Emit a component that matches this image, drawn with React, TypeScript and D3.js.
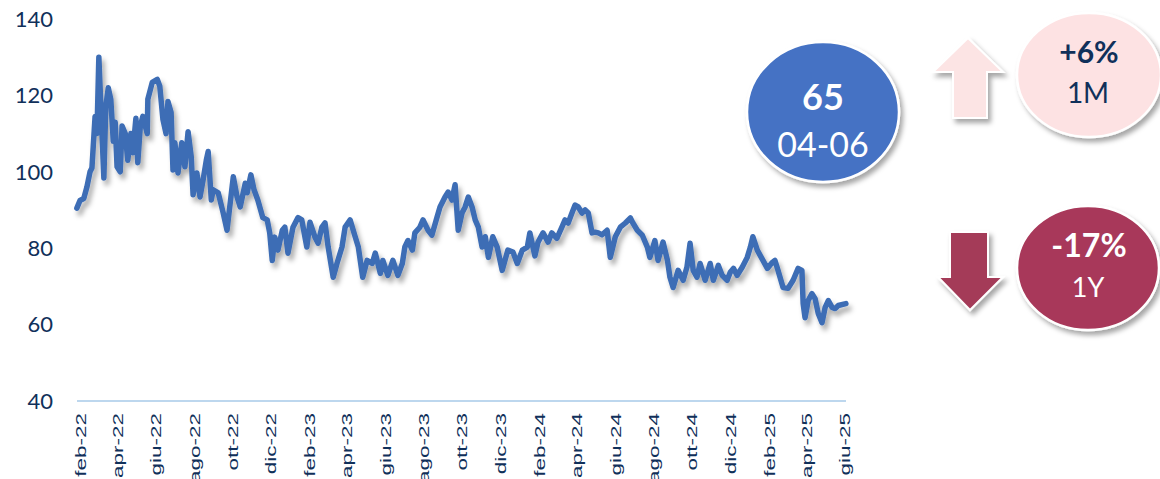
import React from "react";
import * as d3 from "d3";

// weekly-ish readings
const priceSeries: [string, number][] = [
  ["2022-01-27", 90.5], ["2022-02-01", 92.5], ["2022-02-07", 93], ["2022-02-12", 96], ["2022-02-17", 100],
  ["2022-02-20", 101], ["2022-02-25", 114.5], ["2022-02-28", 110], ["2022-03-03", 130], ["2022-03-08", 110],
  ["2022-03-11", 98.4], ["2022-03-14", 117], ["2022-03-18", 122], ["2022-03-22", 119], ["2022-03-26", 108],
  ["2022-03-29", 113], ["2022-04-01", 101.3], ["2022-04-06", 100], ["2022-04-09", 112], ["2022-04-14", 110],
  ["2022-04-18", 103], ["2022-04-23", 110], ["2022-04-26", 105], ["2022-05-01", 114], ["2022-05-04", 102.4],
  ["2022-05-08", 112], ["2022-05-12", 114.5], ["2022-05-19", 110], ["2022-05-20", 119], ["2022-05-27", 123.4],
  ["2022-06-04", 124.2], ["2022-06-08", 122.4], ["2022-06-13", 113.7], ["2022-06-18", 110], ["2022-06-21", 118.4],
  ["2022-06-26", 115.5], ["2022-06-29", 100.5], ["2022-07-02", 107.6], ["2022-07-07", 99.7], ["2022-07-13", 107.6],
  ["2022-07-18", 101.3], ["2022-07-23", 110.5], ["2022-07-28", 104], ["2022-07-31", 94], ["2022-08-06", 99.7],
  ["2022-08-11", 93.4], ["2022-08-16", 97.9], ["2022-08-21", 103], ["2022-08-24", 105.3], ["2022-08-29", 92.6],
  ["2022-09-01", 95.3], ["2022-09-09", 94.5], ["2022-09-17", 89.2], ["2022-09-23", 84.7], ["2022-10-03", 98.7],
  ["2022-10-09", 93.4], ["2022-10-14", 90.8], ["2022-10-22", 97], ["2022-10-25", 94.5], ["2022-10-31", 99.2],
  ["2022-11-05", 95.3], ["2022-11-11", 92.6], ["2022-11-19", 88], ["2022-11-26", 87.4], ["2022-11-30", 84],
  ["2022-12-04", 76.8], ["2022-12-08", 82.9], ["2022-12-13", 79.5], ["2022-12-20", 84.7], ["2022-12-24", 85.5],
  ["2022-12-29", 78.7], ["2023-01-06", 85.5], ["2023-01-14", 88], ["2023-01-20", 87.4], ["2023-01-28", 80.3],
  ["2023-02-02", 86.8], ["2023-02-10", 82.9], ["2023-02-15", 81.3], ["2023-02-21", 85.5], ["2023-02-26", 86.6],
  ["2023-03-03", 80.3], ["2023-03-11", 72.4], ["2023-03-17", 76], ["2023-03-25", 80.3], ["2023-03-30", 85.5],
  ["2023-04-07", 87.4], ["2023-04-15", 83], ["2023-04-20", 80.3], ["2023-04-27", 72.4], ["2023-05-04", 76.8],
  ["2023-05-12", 76], ["2023-05-17", 78.7], ["2023-05-25", 73.4], ["2023-05-29", 76.8], ["2023-06-06", 72.9],
  ["2023-06-14", 76.8], ["2023-06-22", 72.9], ["2023-06-29", 76], ["2023-07-03", 80.3], ["2023-07-08", 82],
  ["2023-07-15", 79.5], ["2023-07-19", 84], ["2023-07-27", 85.5], ["2023-08-01", 87.4], ["2023-08-09", 84.7],
  ["2023-08-15", 83.4], ["2023-08-23", 88], ["2023-08-28", 90.8], ["2023-09-05", 93.4], ["2023-09-10", 94.7],
  ["2023-09-16", 92.6], ["2023-09-21", 96.6], ["2023-09-26", 84.7], ["2023-10-02", 89.2], ["2023-10-07", 90.8],
  ["2023-10-12", 93.4], ["2023-10-18", 90.8], ["2023-10-23", 87.4], ["2023-10-28", 85.5], ["2023-11-03", 80.3],
  ["2023-11-08", 83], ["2023-11-13", 77.6], ["2023-11-20", 83], ["2023-11-27", 80.3], ["2023-12-05", 74.2],
  ["2023-12-14", 79.5], ["2023-12-22", 79], ["2023-12-29", 76], ["2024-01-06", 79.5], ["2024-01-14", 80.3],
  ["2024-01-18", 84], ["2024-01-26", 78], ["2024-01-31", 81.6], ["2024-02-08", 84], ["2024-02-16", 81.6],
  ["2024-02-22", 84], ["2024-03-01", 82.6], ["2024-03-09", 85.5], ["2024-03-14", 87.4], ["2024-03-19", 86.6],
  ["2024-03-25", 89.2], ["2024-03-30", 91.3], ["2024-04-04", 90.8], ["2024-04-10", 89.2], ["2024-04-15", 90],
  ["2024-04-20", 89.2], ["2024-04-26", 84], ["2024-05-01", 84.2], ["2024-05-06", 84], ["2024-05-12", 83.5],
  ["2024-05-20", 84.7], ["2024-05-25", 77.6], ["2024-06-02", 83], ["2024-06-10", 85.5], ["2024-06-18", 86.6],
  ["2024-06-26", 87.9], ["2024-06-30", 86.6], ["2024-07-07", 84.7], ["2024-07-15", 83.4], ["2024-07-23", 80.3],
  ["2024-07-27", 77.6], ["2024-08-04", 82], ["2024-08-09", 76.8], ["2024-08-17", 81.6], ["2024-08-24", 76.8],
  ["2024-08-28", 72.4], ["2024-09-02", 69.7], ["2024-09-10", 74.2], ["2024-09-18", 71.6], ["2024-09-24", 75],
  ["2024-09-29", 81.3], ["2024-10-04", 74.2], ["2024-10-10", 72.4], ["2024-10-15", 76], ["2024-10-23", 71.6],
  ["2024-10-31", 76], ["2024-11-05", 71.6], ["2024-11-13", 75.5], ["2024-11-19", 72.9], ["2024-11-27", 71.6],
  ["2024-12-02", 73.7], ["2024-12-07", 74.7], ["2024-12-13", 72.9], ["2024-12-21", 75], ["2024-12-29", 77.6],
  ["2025-01-03", 80.3], ["2025-01-07", 83], ["2025-01-14", 79.5], ["2025-01-19", 78], ["2025-01-23", 76.8],
  ["2025-01-30", 74.7], ["2025-02-07", 76.3], ["2025-02-11", 76.8], ["2025-02-16", 74.2], ["2025-02-24", 69.7],
  ["2025-03-04", 69.5], ["2025-03-12", 71.6], ["2025-03-20", 74.7], ["2025-03-26", 74.2], ["2025-03-28", 65.5],
  ["2025-03-31", 61.8], ["2025-04-05", 66.3], ["2025-04-11", 68.1], ["2025-04-16", 66.8], ["2025-04-21", 62.9],
  ["2025-04-27", 60.5], ["2025-05-02", 64.5], ["2025-05-07", 66.3], ["2025-05-13", 64.5], ["2025-05-18", 64.2],
  ["2025-05-23", 65], ["2025-06-04", 65.5],
];

const yTicks = [40, 60, 80, 100, 120, 140];
const xTickLabels = [
  "feb-22", "apr-22", "giu-22", "ago-22", "ott-22", "dic-22", "feb-23", "apr-23", "giu-23", "ago-23",
  "ott-23", "dic-23", "feb-24", "apr-24", "giu-24", "ago-24", "ott-24", "dic-24", "feb-25", "apr-25", "giu-25",
];

// badges
const lastValue = "65";
const lastDate = "04-06";
const change1M = "+6%";
const change1Y = "-17%";

const navy = "#10305A";
const lineBlue = "#3D6DB5";

export default function App() {
  const width = 1160,
    height = 479;

  const parse = d3.timeParse("%Y-%m-%d");
  const points = priceSeries.map(([d, v]) => ({ date: parse(d) as Date, value: v }));

  const x = d3
    .scaleTime()
    .domain([new Date(2022, 1, 1), new Date(2025, 5, 1)])
    .range([80, 844]);
  const y = d3.scaleLinear().domain([40, 140]).range([401, 19]);

  const tickDates = d3.timeMonths(new Date(2022, 1, 1), new Date(2025, 5, 2), 2);

  const line = d3
    .line<{ date: Date; value: number }>()
    .x((d) => x(d.date))
    .y((d) => y(d.value));

  return (
    <svg
      width={width}
      height={height}
      style={{ position: "absolute", left: 0, top: 0, background: "#fff" }}
    >
      <defs>
        <filter id="lineShadow" x="-5%" y="-10%" width="110%" height="130%">
          <feDropShadow dx="3" dy="5" stdDeviation="2.5" floodColor="#000" floodOpacity="0.32" />
        </filter>
        <filter id="badgeShadow" x="-20%" y="-20%" width="150%" height="150%">
          <feDropShadow dx="3" dy="4" stdDeviation="2.5" floodColor="#000" floodOpacity="0.35" />
        </filter>
      </defs>

      {/* y axis labels */}
      {yTicks.map((t) => (
        <text
          key={t}
          x={53}
          y={y(t)}
          dy="0.35em"
          textAnchor="end"
          fontFamily="Lato, sans-serif"
          fontSize={22}
          fill={navy}
        >
          {t}
        </text>
      ))}

      {/* x axis line */}
      <line x1={77} x2={846} y1={y(40)} y2={y(40)} stroke="#BDD7EE" strokeWidth={2} />

      {/* x axis labels */}
      {tickDates.map((d, i) => (
        <text
          key={i}
          transform={`translate(${x(d) + 1},${413}) rotate(-90) scale(1.55,1)`}
          dy="0.35em"
          textAnchor="end"
          fontFamily="'Liberation Sans', Arial, sans-serif"
          fontSize={14.5}
          fill={navy}
        >
          {xTickLabels[i]}
        </text>
      ))}

      {/* price line */}
      <path
        d={line(points) || ""}
        fill="none"
        stroke={lineBlue}
        strokeWidth={5.5}
        strokeLinejoin="round"
        strokeLinecap="round"
        filter="url(#lineShadow)"
      />

      {/* last value badge */}
      <g filter="url(#badgeShadow)">
        <ellipse cx={823} cy={112} rx={76} ry={70} fill="#4472C4" stroke="#fff" strokeWidth={2.5} />
      </g>
      <text x={823} y={110} textAnchor="middle" fontFamily="Lato, sans-serif" fontWeight={700} fontSize={36} fill="#fff">
        {lastValue}
      </text>
      <text x={823} y={157} textAnchor="middle" fontFamily="Lato, sans-serif" fontSize={34} fill="#fff">
        {lastDate}
      </text>

      {/* 1M up arrow */}
      <g filter="url(#badgeShadow)">
        <path
          d="M968,38 L1003,72 L987,72 L987,118 L953,118 L953,72 L933,72 Z"
          fill="#FCE4E4"
          stroke="#fff"
          strokeWidth={2}
        />
        <ellipse cx={1089} cy={75} rx={72} ry={62} fill="#FDE2E3" stroke="#fff" strokeWidth={2.5} />
      </g>
      <text x={1089} y={63} textAnchor="middle" fontFamily="Lato, sans-serif" fontWeight={700} fontSize={30} fill={navy}>
        {change1M}
      </text>
      <text x={1088} y={103} textAnchor="middle" fontFamily="Lato, sans-serif" fontSize={28} fill={navy}>
        1M
      </text>

      {/* 1Y down arrow */}
      <g filter="url(#badgeShadow)">
        <path
          d="M950,232 L988,232 L988,277 L1003,277 L970,310 L938,277 L950,277 Z"
          fill="#A43A58"
          stroke="#fff"
          strokeWidth={2}
        />
        <ellipse cx={1088} cy={268} rx={71} ry={62} fill="#A8395A" stroke="#fff" strokeWidth={2.5} />
      </g>
      <text x={1089} y={257} textAnchor="middle" fontFamily="Lato, sans-serif" fontWeight={700} fontSize={32} fill="#fff">
        {change1Y}
      </text>
      <text x={1088} y={297} textAnchor="middle" fontFamily="Lato, sans-serif" fontSize={27} fill="#fff">
        1Y
      </text>
    </svg>
  );
}
